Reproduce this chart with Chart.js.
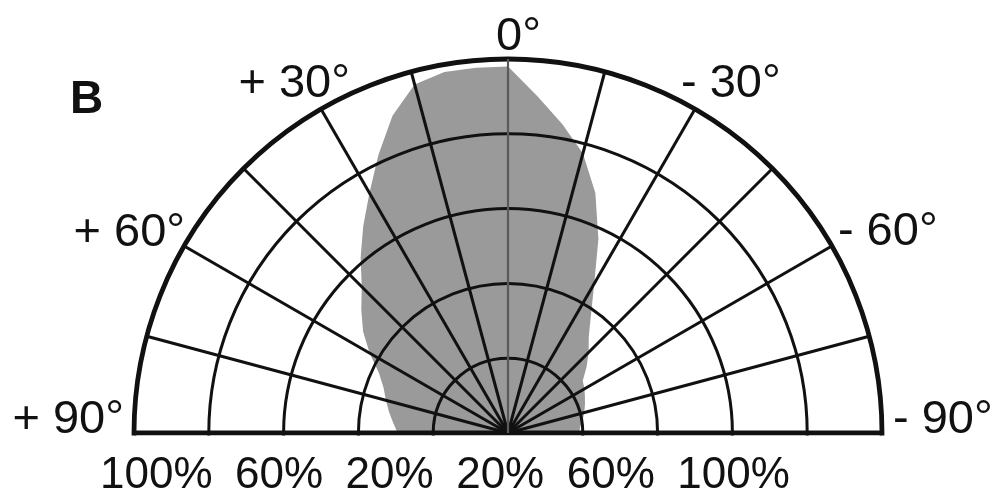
<!DOCTYPE html>
<html>
<head>
<meta charset="utf-8">
<script src="https://cdn.jsdelivr.net/npm/chart.js@4.4.0/dist/chart.umd.min.js"></script>
<style>
  html, body { margin: 0; padding: 0; background: #fff; }
  #wrap { width: 998px; height: 501px; overflow: hidden; }
</style>
</head>
<body>
<div id="wrap"><canvas id="polar" width="998" height="807"></canvas></div>
<script>
// relative intensity (%), every 5 degrees
const angleStep = 5;
const lobeLeft  = [98, 98, 98, 96.5, 90.3, 82, 74.1, 67.5, 61.3, 55.3, 51.2, 47.3, 42.7, 38.1, 35.4, 33.8, 32.3, 30.8, 29.5]; // 0 .. +90
const lobeRight = [98, 90.4, 83.8, 77.4, 68.3, 57.2, 46.1, 38.7, 33.6, 30.5, 27.4, 24.4, 23.6, 22.7, 21.9, 21.1, 20.3, 19.4, 19]; // 0 .. -90

const tickAngles = [90, 60, 30, 0, -30, -60, -90];
const angleTicks = ['+ 90°', '+ 60°', '+ 30°', '0°', '- 30°', '- 60°', '- 90°'];
const bottomTicks = ['100%', '60%', '20%', '20%', '60%', '100%'];

// radar goes clockwise from the top; positive angles are on the left
const n = 360 / angleStep;
const angles = [], values = [];
for (let k = 0; k < n; k++) {
  const a = k <= n / 2 ? -k * angleStep : 360 - k * angleStep;
  angles.push(a);
  if (a <= 0 && a >= -90) values.push(lobeRight[-a / angleStep]);
  else if (a > 0 && a <= 90) values.push(lobeLeft[a / angleStep]);
  else values.push(null);
}
const indexOf = a => angles.indexOf(a);

const ink = '#111';
const labelFont = '47px "Liberation Sans", Arial, sans-serif';
const placement = { // align, dx, dy from the point on the outer ring
  '90': ['right', -10, 0], '60': ['right', 1, 0], '30': ['right', 29, -12],
  '0': ['left', -12, -9], '-30': ['left', -14, -12], '-60': ['left', 6, -1], '-90': ['left', 11, 0]
};

const halfPlane = {
  id: 'halfPlane',
  beforeDraw(chart) {
    const s = chart.scales.r, ctx = chart.ctx;
    ctx.save();
    ctx.beginPath();
    ctx.rect(0, 0, chart.width, s.yCenter + 2.5);
    ctx.clip();
  },
  afterDraw(chart) {
    const s = chart.scales.r, ctx = chart.ctx;
    ctx.restore();
    ctx.save();
    ctx.fillStyle = ink;
    ctx.textBaseline = 'alphabetic';
    ctx.font = labelFont;
    tickAngles.forEach((a, i) => {
      const p = s.getPointPositionForValue(indexOf(a), 100);
      const [align, dx, dy] = placement[a];
      ctx.textAlign = align;
      ctx.fillText(angleTicks[i], p.x + dx, p.y + dy);
    });
    // percent line under the baseline
    ctx.font = '44px "Liberation Sans", Arial, sans-serif';
    ctx.textAlign = 'left';
    let x = chart.chartArea.left - 34;
    bottomTicks.forEach(t => {
      ctx.fillText(t, x, s.yCenter + 55);
      x += ctx.measureText(t).width + 22.5;
    });
    ctx.font = 'bold 46px "Liberation Sans", Arial, sans-serif';
    ctx.fillText('B', 70, 113);
    ctx.restore();
  }
};

new Chart(document.getElementById('polar'), {
  type: 'radar',
  data: {
    labels: angles,
    datasets: [{
      data: values,
      backgroundColor: '#9a9a9a',
      borderWidth: 0,
      pointRadius: 0,
      fill: 'origin',
      spanGaps: true,
      tension: 0
    }]
  },
  options: {
    responsive: false,
    animation: false,
    layout: { padding: { left: 134, right: 116, top: 59, bottom: 0 } },
    plugins: { legend: { display: false }, tooltip: { enabled: false } },
    scales: {
      r: {
        min: 0,
        max: 100,
        ticks: { display: false, stepSize: 20, z: 1 },
        pointLabels: { display: false },
        grid: {
          z: 1,
          circular: true,
          color: ink,
          lineWidth: c => c.tick && c.tick.value === 100 ? 4.8 : 3
        },
        angleLines: {
          color: c => {
            const a = angles[c.index];
            if (a === 0) return '#5a5a5a';
            return Math.abs(a) <= 90 && a % 15 === 0 ? ink : 'transparent';
          },
          lineWidth: c => {
            const a = angles[c.index];
            if (Math.abs(a) > 90 || a % 15 !== 0) return 0;
            if (a === 0) return 2.2;
            return Math.abs(a) === 90 ? 4.8 : 3;
          }
        }
      }
    }
  },
  plugins: [halfPlane]
});
</script>
</body>
</html>
